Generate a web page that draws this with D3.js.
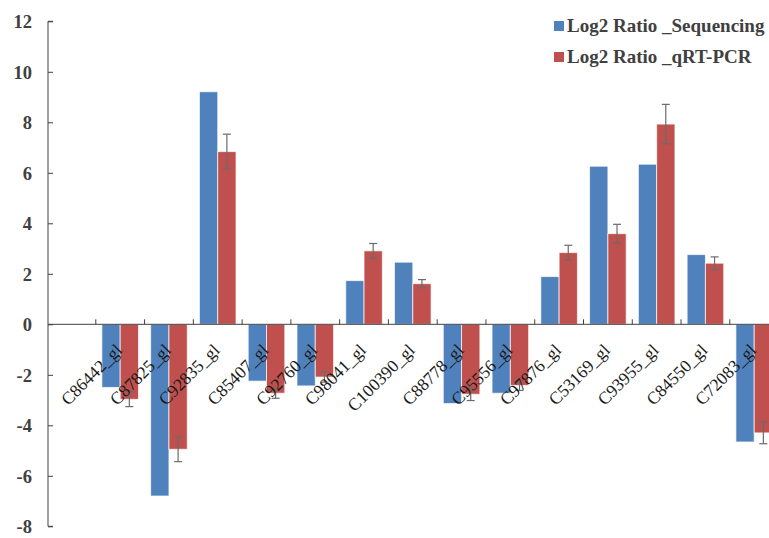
<!DOCTYPE html>
<html>
<head>
<meta charset="utf-8">
<script src="https://cdn.jsdelivr.net/npm/d3@7"></script>
<style>
  html, body { margin: 0; padding: 0; background: #fff; }
  svg { display: block; }
  svg text { font-family: "Liberation Serif", "Times New Roman", Times, serif; }
</style>
</head>
<body>
<svg id="chart" width="769" height="538"></svg>
<script>
// ---- data ----
const categories = ["C86442_gl","C87825_gl","C92835_gl","C85407_gl","C92760_gl","C98041_gl","C100390_gl",
                    "C88778_gl","C95556_gl","C97876_gl","C53169_gl","C93955_gl","C84550_gl","C72083_gl"];
const seriesNames = ["Log2 Ratio _Sequencing", "Log2 Ratio _qRT-PCR"];
const sequencing = [-2.50, -6.80, 9.21, -2.25, -2.44, 1.73, 2.46, -3.14, -2.73, 1.89, 6.26, 6.34, 2.76, -4.66];
const qrtpcr     = [-2.97, -4.95, 6.84, -2.73, -2.09, 2.91, 1.61, -2.77, -2.42, 2.84, 3.59, 7.93, 2.42, -4.30];
const qrtpcrErr  = [0.29, 0.49, 0.69, 0.20, 0.20, 0.29, 0.16, 0.25, 0.20, 0.29, 0.37, 0.78, 0.25, 0.43];
const yTicks = [-8, -6, -4, -2, 0, 2, 4, 6, 8, 10, 12];
const colors = ["#4F81BD", "#C0504D"];

const svg = d3.select("#chart");
const axisLeftX = 48;
const y = d3.scaleLinear().domain([-8, 12]).range([526.3, 21.3]);
const x = d3.scaleBand().domain(categories).range([95.8, 95.8 + 14 * 48.77]).padding(0);
const xs = d3.scaleBand().domain(seriesNames).range([0, x.bandwidth()]).paddingInner(0).paddingOuter(0.333);

// bars
const rows = categories.map((c, i) => ({ c, vals: [sequencing[i], qrtpcr[i]], err: qrtpcrErr[i] }));
const g = svg.append("g");
rows.forEach(r => {
  r.vals.forEach((v, si) => {
    const y0 = y(0), y1 = y(v);
    g.append("rect")
      .attr("x", x(r.c) + xs(seriesNames[si]))
      .attr("y", Math.min(y0, y1))
      .attr("width", xs.bandwidth())
      .attr("height", Math.abs(y1 - y0))
      .attr("fill", colors[si])
      .attr("stroke", "#ffffff")
      .attr("stroke-opacity", 0.7)
      .attr("stroke-width", 1);
  });
});

// error bars on qRT-PCR
rows.forEach(r => {
  const cx = x(r.c) + xs(seriesNames[1]) + xs.bandwidth() / 2;
  const v = r.vals[1];
  const top = y(v + r.err), bot = y(v - r.err);
  const eg = g.append("g").attr("stroke", "#6b6b6b").attr("stroke-width", 1.2);
  eg.append("line").attr("x1", cx).attr("x2", cx).attr("y1", top).attr("y2", bot);
  eg.append("line").attr("x1", cx - 4).attr("x2", cx + 4).attr("y1", top).attr("y2", top);
  eg.append("line").attr("x1", cx - 4).attr("x2", cx + 4).attr("y1", bot).attr("y2", bot);
});

// y axis
const yAxis = d3.axisRight(y).tickValues(yTicks).tickSize(5).tickFormat(d => String(d));
const yg = svg.append("g").attr("transform", `translate(${axisLeftX},0)`).call(yAxis);
yg.attr("font-family", null);
yg.select(".domain").attr("stroke", "#404040").attr("d", `M5,${y(12)}H0V${y(-8)}H5`);
yg.selectAll(".tick line").attr("stroke", "#404040");
yg.selectAll(".tick text")
  .attr("x", -16).attr("text-anchor", "end").attr("dy", "0.35em")
  .style("font-weight", "bold").style("font-size", "18.5px")
  .attr("fill", "#404040");

// x axis (zero line)
const zg = svg.append("g");
zg.append("line").attr("x1", axisLeftX).attr("x2", 769).attr("y1", y(0)).attr("y2", y(0))
  .attr("stroke", "#404040").attr("stroke-width", 1);
categories.forEach(c => {
  zg.append("line").attr("x1", x(c)).attr("x2", x(c)).attr("y1", y(0)).attr("y2", y(0) - 5)
    .attr("stroke", "#404040").attr("stroke-width", 1);
});

// category labels
categories.forEach(c => {
  const lx = x(c) + x.bandwidth() / 2 + 3;
  const ly = y(0) + 27;
  svg.append("text")
    .attr("transform", `translate(${lx},${ly}) rotate(-45)`)
    .attr("text-anchor", "end")
    .style("font-size", "17.5px")
    .attr("fill", "#1a1a1a")
    .text(c);
});

// legend
const lg = svg.append("g");
seriesNames.forEach((s, i) => {
  const yy = 21 + i * 31;
  lg.append("rect").attr("x", 554).attr("y", yy).attr("width", 10).attr("height", 10).attr("fill", colors[i]);
  lg.append("text").attr("x", 567).attr("y", yy + 10.5)
    .style("font-weight", "bold").style("font-size", "19px")
    .attr("fill", "#404040").text(s);
});
</script>
</body>
</html>
